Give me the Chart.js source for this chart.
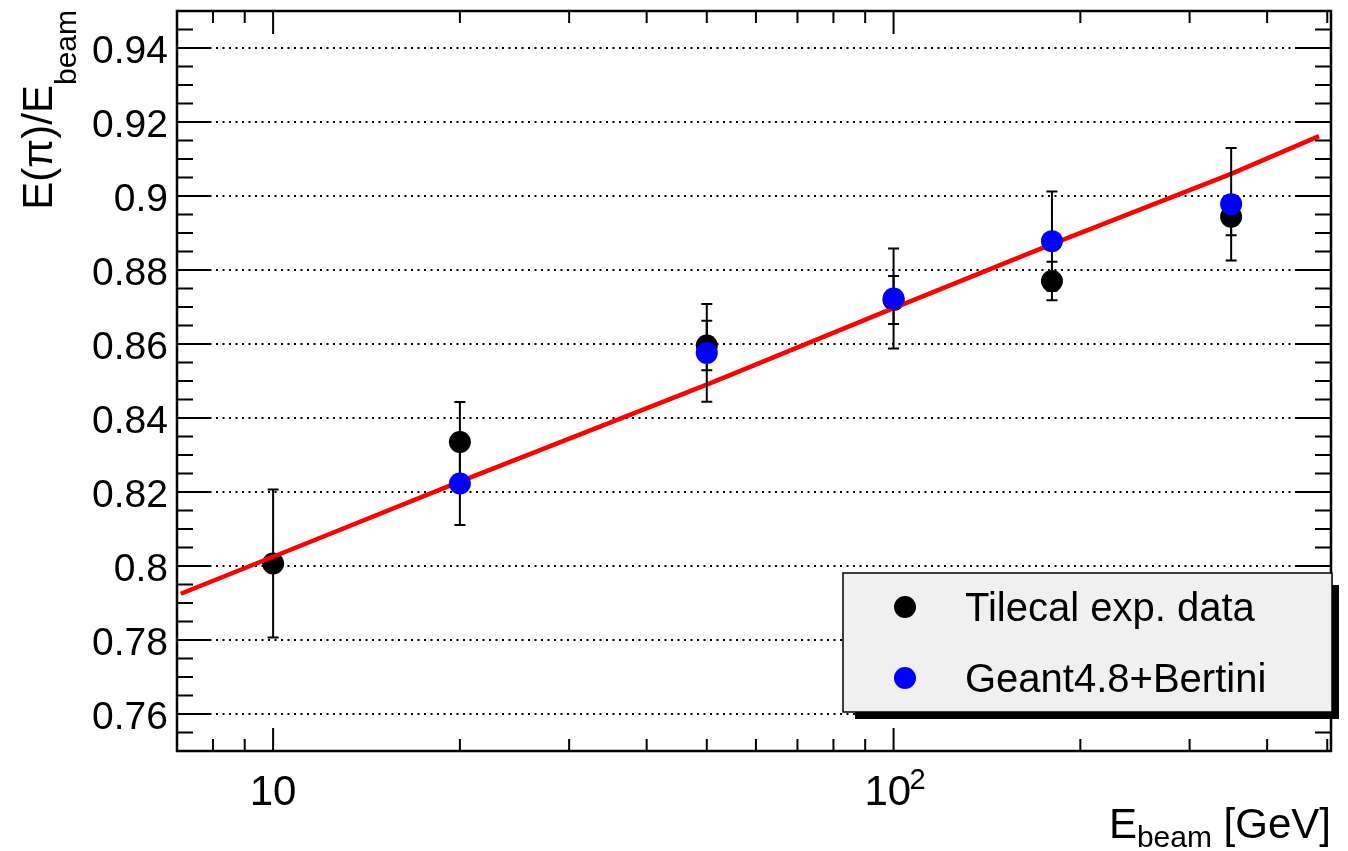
<!DOCTYPE html>
<html>
<head>
<meta charset="utf-8">
<script src="https://cdn.jsdelivr.net/npm/chart.js@4.4.0/dist/chart.umd.min.js"></script>
<style>
html, body { margin: 0; padding: 0; background: #fff; }
</style>
</head>
<body>
<canvas id="respChart" width="1348" height="851"></canvas>
<script>
// Tilecal test beam data (pion response vs beam energy)
const tileE    = [10, 20, 50, 100, 180, 350];
const tileResp = [0.8007, 0.8335, 0.8596, 0.8719, 0.8770, 0.8944];
const tileErr  = [0.0200, 0.0108, 0.0067, 0.0065, 0.0052, 0.0050];

// Geant4.8 + Bertini simulation
const g4E    = [20, 50, 100, 180, 350];
const g4Resp = [0.8223, 0.8576, 0.8723, 0.8878, 0.8978];
const g4Err  = [0.0112, 0.0132, 0.0135, 0.0134, 0.0152];

// red fit line
const fitE    = [7.1, 10, 20, 50, 100, 180, 350, 485];
const fitResp = [0.7925, 0.8025, 0.8228, 0.8490, 0.8697, 0.8870, 0.9060, 0.9162];

// axes
const yTicks = [0.76, 0.78, 0.80, 0.82, 0.84, 0.86, 0.88, 0.90, 0.92, 0.94];
const yTickLabels = ['0.76', '0.78', '0.8', '0.82', '0.84', '0.86', '0.88', '0.9', '0.92', '0.94'];
const xTicks = [10, 100];
const xTickLabels = ['10', '10 '];   // exponent of 10² is drawn as a superscript
const xTickExp = ['', '2'];
const xMinorTicks = [8, 9, 20, 30, 40, 50, 60, 70, 80, 90, 200, 300, 400, 500];

const FONT = '"Liberation Sans", Arial, Helvetica, sans-serif';

const toPoints = (xs, ys) => xs.map((x, i) => ({ x: x, y: ys[i] }));
const errors = [tileErr, null, g4Err];

// error bars go under the markers of each graph
const errorBars = {
    id: 'errorBars',
    beforeDatasetDraw(chart, args) {
        const err = errors[args.index];
        if (!err) return;
        const ctx = chart.ctx;
        const xs = chart.scales.x, ys = chart.scales.y;
        const pts = chart.data.datasets[args.index].data;
        ctx.save();
        ctx.strokeStyle = '#000';
        ctx.lineWidth = 2;
        pts.forEach((p, i) => {
            const px = xs.getPixelForValue(p.x);
            const top = ys.getPixelForValue(p.y + err[i]);
            const bot = ys.getPixelForValue(p.y - err[i]);
            ctx.beginPath();
            ctx.moveTo(px, top); ctx.lineTo(px, bot);
            ctx.moveTo(px - 5.5, top); ctx.lineTo(px + 5.5, top);
            ctx.moveTo(px - 5.5, bot); ctx.lineTo(px + 5.5, bot);
            ctx.stroke();
        });
        ctx.restore();
    }
};

// ROOT style frame with inner ticks on all four sides
const frameTicks = {
    id: 'frameTicks',
    afterDatasetsDraw(chart) {
        const ctx = chart.ctx;
        const a = chart.chartArea;
        const xs = chart.scales.x, ys = chart.scales.y;
        ctx.save();
        ctx.strokeStyle = '#000';
        ctx.lineWidth = 2;
        ctx.beginPath();
        yTicks.forEach(v => {
            const py = ys.getPixelForValue(v);
            ctx.moveTo(a.left, py); ctx.lineTo(a.left + 34, py);
            ctx.moveTo(a.right, py); ctx.lineTo(a.right - 34, py);
        });
        for (let v = 0.755; v < 0.95; v += 0.005) {
            if (yTicks.some(t => Math.abs(t - v) < 1e-4)) continue;
            const py = ys.getPixelForValue(v);
            ctx.moveTo(a.left, py); ctx.lineTo(a.left + 16, py);
            ctx.moveTo(a.right, py); ctx.lineTo(a.right - 16, py);
        }
        xTicks.forEach(v => {
            const px = xs.getPixelForValue(v);
            ctx.moveTo(px, a.bottom); ctx.lineTo(px, a.bottom - 23);
            ctx.moveTo(px, a.top); ctx.lineTo(px, a.top + 23);
        });
        xMinorTicks.forEach(v => {
            const px = xs.getPixelForValue(v);
            ctx.moveTo(px, a.bottom); ctx.lineTo(px, a.bottom - 12);
            ctx.moveTo(px, a.top); ctx.lineTo(px, a.top + 12);
        });
        ctx.stroke();
        ctx.lineWidth = 2.5;
        ctx.strokeRect(a.left, a.top, a.right - a.left, a.bottom - a.top);

        // superscript exponents of the x tick labels
        ctx.fillStyle = '#000';
        ctx.font = '29px ' + FONT;
        ctx.textAlign = 'left';
        ctx.textBaseline = 'alphabetic';
        xTicks.forEach((v, i) => {
            if (!xTickExp[i]) return;
            ctx.fillText(xTickExp[i], xs.getPixelForValue(v) + 16, 789);
        });
        ctx.restore();
    }
};

// legend box with shadow and the axis titles
const legendTitles = {
    id: 'legendTitles',
    afterDraw(chart) {
        const ctx = chart.ctx;
        ctx.save();
        // shadow + box
        ctx.fillStyle = '#000';
        ctx.fillRect(855, 585, 484, 134);
        ctx.fillStyle = '#f0f0f0';
        ctx.fillRect(843, 573, 489, 139);
        ctx.strokeStyle = '#000';
        ctx.lineWidth = 1.5;
        ctx.strokeRect(843, 573, 489, 139);

        const entries = [
            { color: '#000000', label: 'Tilecal exp. data', y: 607 },
            { color: '#0000ff', label: 'Geant4.8+Bertini', y: 678 }
        ];
        ctx.font = '40px ' + FONT;
        ctx.textAlign = 'left';
        ctx.textBaseline = 'alphabetic';
        entries.forEach(e => {
            ctx.fillStyle = e.color;
            ctx.beginPath();
            ctx.arc(905, e.y, 11, 0, Math.PI * 2);
            ctx.fill();
            ctx.fillStyle = '#000';
            ctx.fillText(e.label, 965, e.y + 14);
        });

        // x title, right aligned to the frame
        ctx.fillStyle = '#000';
        const mainF = '42px ' + FONT, subF = '30px ' + FONT;
        ctx.font = mainF;
        const wE = ctx.measureText('E').width;
        const wG = ctx.measureText(' [GeV]').width;
        ctx.font = subF;
        const wB = ctx.measureText('beam').width;
        let x0 = 1331 - (wE + wB + wG);
        ctx.font = mainF;
        ctx.fillText('E', x0, 838);
        ctx.font = subF;
        ctx.fillText('beam', x0 + wE, 847);
        ctx.font = mainF;
        ctx.fillText(' [GeV]', x0 + wE + wB, 838);

        // y title, rotated, right aligned to the top
        ctx.font = mainF;
        const wY = ctx.measureText('E(π)/E').width;
        ctx.font = subF;
        const wYb = ctx.measureText('beam').width;
        ctx.translate(52, 10 + wY + wYb);
        ctx.rotate(-Math.PI / 2);
        ctx.font = mainF;
        ctx.fillText('E(π)/E', 0, 0);
        ctx.font = subF;
        ctx.fillText('beam', wY, 24);
        ctx.restore();
    }
};

new Chart(document.getElementById('respChart'), {
    type: 'scatter',
    data: {
        datasets: [
            {
                label: 'Tilecal exp. data',
                data: toPoints(tileE, tileResp),
                backgroundColor: '#000000',
                borderWidth: 0,
                pointRadius: 11,
                order: 3
            },
            {
                label: 'fit',
                data: toPoints(fitE, fitResp),
                showLine: true,
                borderColor: '#ff0000',
                borderWidth: 4.5,
                pointRadius: 0,
                tension: 0,
                order: 2
            },
            {
                label: 'Geant4.8+Bertini',
                data: toPoints(g4E, g4Resp),
                backgroundColor: '#0000ff',
                borderWidth: 0,
                pointRadius: 11,
                order: 1
            }
        ]
    },
    options: {
        responsive: false,
        animation: false,
        events: [],
        layout: { padding: { top: 9, right: 17, left: 0, bottom: 0 } },
        plugins: {
            legend: { display: false },
            tooltip: { enabled: false }
        },
        scales: {
            x: {
                type: 'logarithmic',
                min: 7,
                max: 507,
                afterBuildTicks: s => { s.ticks = xTicks.map(v => ({ value: v })); },
                afterFit: s => { s.height = 100; },
                ticks: {
                    callback: v => xTickLabels[xTicks.indexOf(v)],
                    autoSkip: false,
                    maxRotation: 0,
                    padding: 21,
                    color: '#000',
                    font: { family: FONT, size: 42, lineHeight: 1 }
                },
                grid: { display: false, drawTicks: false },
                border: { display: false }
            },
            y: {
                type: 'linear',
                min: 0.75,
                max: 0.95,
                afterBuildTicks: s => { s.ticks = yTicks.map(v => ({ value: v })); },
                afterFit: s => { s.width = 177; },
                ticks: {
                    callback: v => yTickLabels[yTicks.indexOf(v)],
                    padding: 9,
                    labelOffset: 4,
                    color: '#000',
                    // tiny line height keeps Chart.js from padding the top of the plot
                    font: { family: FONT, size: 39, lineHeight: 0.02 }
                },
                grid: { color: '#000', lineWidth: 2, drawTicks: false },
                border: { display: false, dash: [2, 4.5] }
            }
        }
    },
    plugins: [errorBars, frameTicks, legendTitles]
});
</script>
</body>
</html>
